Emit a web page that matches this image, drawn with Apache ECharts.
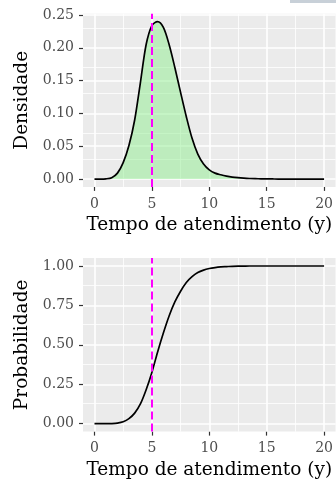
<!DOCTYPE html>
<html>
<head>
<meta charset="utf-8">
<script src="https://cdn.jsdelivr.net/npm/echarts@6/dist/echarts.min.js"></script>
<style>
  html, body { margin: 0; padding: 0; background: #fff; }
  #chart { width: 336px; height: 490px; }
</style>
</head>
<body>
<div id="chart"></div>
<script>
// tempo de atendimento (y)
var tempo = [0, 0.5, 1, 1.5, 2, 2.5, 3, 3.5, 4, 4.5, 5, 5.5, 6, 6.5, 7, 7.5, 8, 8.5, 9, 9.5,
  10, 10.5, 11, 11.5, 12, 12.5, 13, 13.5, 14, 14.5, 15, 15.5, 16, 16.5, 17, 17.5, 18, 18.5, 19, 19.5, 20];
// densidade
var densidade = [0, 0, 0.0003, 0.002, 0.009, 0.025, 0.051, 0.090, 0.147, 0.205, 0.234, 0.240, 0.231, 0.205,
  0.170, 0.132, 0.095, 0.062, 0.038, 0.023, 0.014, 0.009, 0.0065, 0.0045, 0.003, 0.002, 0.0013, 0.0008,
  0.0005, 0.0003, 0.0002, 0.0001, 0, 0, 0, 0, 0, 0, 0, 0, 0];
// probabilidade acumulada
var probabilidade = [0, 0, 0, 0.001, 0.004, 0.012, 0.032, 0.067, 0.125, 0.215, 0.325, 0.455, 0.575, 0.683,
  0.772, 0.84, 0.895, 0.932, 0.958, 0.974, 0.984, 0.990, 0.994, 0.996, 0.998, 0.999, 0.9995,
  1, 1, 1, 1, 1, 1, 1, 1, 1, 1, 1, 1, 1, 1];
var corte = 5; // linha tracejada

var ticksX = [0, 5, 10, 15, 20];
var minorX = [2.5, 7.5, 12.5, 17.5];
var ticksDens = [0, 0.05, 0.10, 0.15, 0.20, 0.25];
var minorDens = [0.025, 0.075, 0.125, 0.175, 0.225];
var ticksProb = [0, 0.25, 0.50, 0.75, 1.00];
var minorProb = [0.125, 0.375, 0.625, 0.875];

var fonte = '"DejaVu Serif", serif';

function pares(ys) {
  return tempo.map(function (x, i) { return [x, ys[i]]; });
}

function gradeLinhas(major, minor, eixo) {
  var d = [];
  major.forEach(function (v) {
    var o = { lineStyle: { width: 1.6 } }; o[eixo] = v; d.push(o);
  });
  minor.forEach(function (v) {
    var o = { lineStyle: { width: 0.8 } }; o[eixo] = v; d.push(o);
  });
  return d;
}

function eixoX(idx) {
  return {
    type: 'value', gridIndex: idx, min: -1, max: 21,
    name: 'Tempo de atendimento (y)', nameLocation: 'middle', nameGap: 29,
    nameTextStyle: { color: '#000', fontSize: 18.5, fontFamily: fonte },
    // onZero false senao o eixo vai pro zero
    axisLine: { show: true, onZero: false, lineStyle: { color: 'rgba(0,0,0,0)' } },
    axisTick: { show: true, inside: false, length: 4, customValues: ticksX, lineStyle: { color: '#333333', width: 1.2 } },
    axisLabel: { customValues: ticksX, color: '#4D4D4D', fontSize: 14, fontFamily: fonte, margin: 10 },
    splitLine: { show: false }
  };
}

function eixoY(idx, nome, min, max, ticks) {
  return {
    type: 'value', gridIndex: idx, min: min, max: max,
    name: nome, nameLocation: 'middle', nameRotate: 90, nameGap: 48,
    nameTextStyle: { color: '#000', fontSize: 18.5, fontFamily: fonte },
    axisLine: { show: true, onZero: false, lineStyle: { color: 'rgba(0,0,0,0)' } },
    axisTick: { show: true, inside: false, length: 4, customValues: ticks, lineStyle: { color: '#333333', width: 1.2 } },
    axisLabel: {
      customValues: ticks, color: '#4D4D4D', fontSize: 14, fontFamily: fonte, margin: 9,
      formatter: function (v) { return v.toFixed(2); }
    },
    splitLine: { show: false }
  };
}

function serieGrade(idx, ys, majorY, minorY) {
  return {
    type: 'line', xAxisIndex: idx, yAxisIndex: idx, data: pares(ys),
    showSymbol: false, silent: true, z: 1,
    lineStyle: { opacity: 0 },
    markLine: {
      z: 1, silent: true, symbol: 'none', animation: false,
      label: { show: false }, emphasis: { disabled: true },
      lineStyle: { color: '#fff', type: 'solid' },
      data: gradeLinhas(ticksX, minorX, 'xAxis').concat(gradeLinhas(majorY, minorY, 'yAxis'))
    }
  };
}

function linhaCorte() {
  return {
    z: 6, silent: true, symbol: 'none', animation: false,
    label: { show: false }, emphasis: { disabled: true },
    lineStyle: { color: '#FF00FF', type: [8, 4], width: 2 },
    data: [{ xAxis: corte }]
  };
}

var chart = echarts.init(document.getElementById('chart'), null, { renderer: 'canvas' });
chart.setOption({
  backgroundColor: '#fff',
  animation: false,
  graphic: [{
    type: 'rect', left: 290, top: 0, shape: { width: 46, height: 3 },
    style: { fill: '#c8d0d8' }, silent: true
  }],
  grid: [
    { left: 83, top: 13.7, width: 253, height: 173.2, show: true, backgroundColor: '#EBEBEB', borderWidth: 0 },
    { left: 83, top: 258.1, width: 253, height: 173.5, show: true, backgroundColor: '#EBEBEB', borderWidth: 0 }
  ],
  xAxis: [eixoX(0), eixoX(1)],
  yAxis: [
    eixoY(0, 'Densidade', -0.012, 0.252, ticksDens),
    eixoY(1, 'Probabilidade', -0.05, 1.05, ticksProb)
  ],
  series: [
    serieGrade(0, densidade, ticksDens, minorDens),
    serieGrade(1, probabilidade, ticksProb, minorProb),
    {
      name: 'Densidade', type: 'line', xAxisIndex: 0, yAxisIndex: 0,
      data: pares(densidade), smooth: 0.3, showSymbol: false, z: 3,
      lineStyle: { color: '#000', width: 1.7 },
      areaStyle: { color: 'rgba(144,238,144,0.72)', origin: 0 },
      markLine: linhaCorte()
    },
    {
      name: 'Probabilidade', type: 'line', xAxisIndex: 1, yAxisIndex: 1,
      data: pares(probabilidade), smooth: 0.3, showSymbol: false, z: 3,
      lineStyle: { color: '#000', width: 1.7 },
      markLine: linhaCorte()
    }
  ]
});
</script>
</body>
</html>
